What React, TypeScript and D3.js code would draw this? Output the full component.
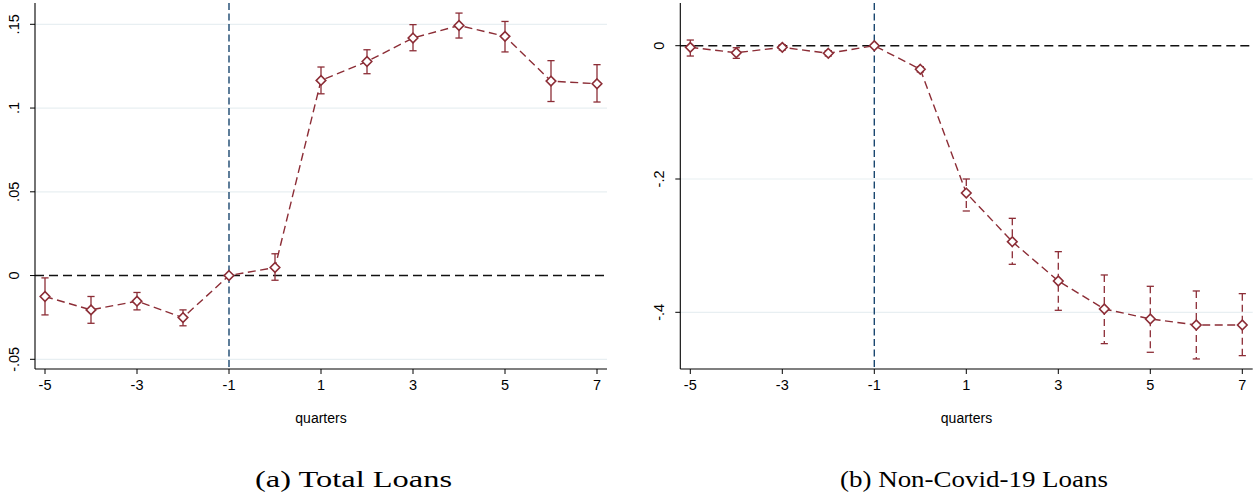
import React from "react";
import * as d3 from "d3";

const quarters = [-5, -4, -3, -2, -1, 0, 1, 2, 3, 4, 5, 6, 7];
const xTicks = [-5, -3, -1, 1, 3, 5, 7];

const totalCoef = [-0.0125, -0.0205, -0.0153, -0.0251, 0, 0.0048, 0.1165, 0.1278, 0.1418, 0.1493, 0.1428, 0.1161, 0.1145];
const totalLo = [-0.0235, -0.0285, -0.0205, -0.030, null, -0.0028, 0.1085, 0.1205, 0.1342, 0.1418, 0.1335, 0.1039, 0.1036];
const totalHi = [-0.0014, -0.0125, -0.0101, -0.0205, null, 0.013, 0.1245, 0.1348, 0.1498, 0.1567, 0.1517, 0.1283, 0.1259];
const totalYTicks = [-0.05, 0, 0.05, 0.1, 0.15];
const totalYLabels = ["-.05", "0", ".05", ".1", ".15"];

const nonCovidCoef = [-0.0025, -0.0105, -0.0025, -0.0114, 0, -0.0354, -0.221, -0.294, -0.353, -0.395, -0.41, -0.419, -0.419];
const nonCovidLo = [-0.0155, -0.019, -0.0065, -0.0154, null, -0.0394, -0.248, -0.328, -0.397, -0.447, -0.46, -0.47, -0.465];
const nonCovidHi = [0.0085, -0.003, 0.0015, -0.0074, null, -0.0314, -0.2, -0.259, -0.309, -0.344, -0.361, -0.368, -0.372];
const nonCovidYTicks = [-0.4, -0.2, 0];
const nonCovidYLabels = ["-.4", "-.2", "0"];

const MAROON = "#8c2d36";
const NAVY = "#1a476f";
const GRID = "#e8eff2";

type PanelProps = {
  coef: number[];
  lo: (number | null)[];
  hi: (number | null)[];
  yTicks: number[];
  yLabels: string[];
  yDomain: [number, number];
  yRange: [number, number];
  xRange: [number, number];
  plotLeft: number;
  plotRight: number;
  dashedCI: boolean;
  labelX: number;
};

const PLOT_TOP = 3;
const PLOT_BOTTOM = 369;
const SANS = "'Liberation Sans', Arial, sans-serif";

function Panel(p: PanelProps) {
  const x = d3.scaleLinear().domain([-5, 7]).range(p.xRange);
  const y = d3.scaleLinear().domain(p.yDomain).range(p.yRange);
  const line = d3
    .line<number>()
    .x((_, i) => x(quarters[i]))
    .y((d) => y(d));
  const diamond = (cx: number, cy: number) => {
    const r = 4.8;
    return `M${cx},${cy - r}L${cx + r},${cy}L${cx},${cy + r}L${cx - r},${cy}Z`;
  };
  const cap = 3.6;
  return (
    <g>
      {p.yTicks.map((t) =>
        t === 0 ? null : (
          <line key={"g" + t} x1={p.plotLeft} x2={p.plotRight} y1={y(t)} y2={y(t)} stroke={GRID} strokeWidth={1.2} />
        )
      )}
      <line x1={p.plotLeft} x2={p.plotRight} y1={y(0)} y2={y(0)} stroke="#111" strokeWidth={1.4} strokeDasharray="9 5" />
      <line x1={x(-1)} x2={x(-1)} y1={PLOT_TOP} y2={PLOT_BOTTOM} stroke={NAVY} strokeWidth={1.4} strokeDasharray="7 3.5" />
      <line x1={p.plotLeft} x2={p.plotLeft} y1={PLOT_TOP} y2={PLOT_BOTTOM} stroke="#000" strokeWidth={1.1} />
      <line x1={p.plotLeft} x2={p.plotRight} y1={PLOT_BOTTOM} y2={PLOT_BOTTOM} stroke="#000" strokeWidth={1.1} />
      {p.yTicks.map((t, i) => (
        <g key={"yt" + t}>
          <line x1={p.plotLeft - 5} x2={p.plotLeft} y1={y(t)} y2={y(t)} stroke="#000" strokeWidth={1} />
          <text
            transform={`translate(${p.plotLeft - 16},${y(t)}) rotate(-90)`}
            textAnchor="middle"
            fontFamily={SANS}
            fontSize={14.5}
          >
            {p.yLabels[i]}
          </text>
        </g>
      ))}
      {xTicks.map((t) => (
        <g key={"xt" + t}>
          <line x1={x(t)} x2={x(t)} y1={PLOT_BOTTOM} y2={PLOT_BOTTOM + 5} stroke="#000" strokeWidth={1} />
          <text x={x(t)} y={PLOT_BOTTOM + 21} textAnchor="middle" fontFamily={SANS} fontSize={14.5}>
            {String(t)}
          </text>
        </g>
      ))}
      <text x={p.labelX} y={423} textAnchor="middle" fontFamily={SANS} fontSize={14}>
        quarters
      </text>
      {quarters.map((q, i) => {
        const l = p.lo[i];
        const h = p.hi[i];
        if (l === null || h === null) return null;
        const cx = x(q);
        return (
          <g key={"ci" + q} stroke={MAROON} strokeWidth={1.3} fill="none">
            <line x1={cx} x2={cx} y1={y(h)} y2={y(l)} strokeDasharray={p.dashedCI ? "7 4" : undefined} />
            <line x1={cx - cap} x2={cx + cap} y1={y(h)} y2={y(h)} />
            <line x1={cx - cap} x2={cx + cap} y1={y(l)} y2={y(l)} />
          </g>
        );
      })}
      <path d={line(p.coef) || ""} fill="none" stroke={MAROON} strokeWidth={1.4} strokeDasharray="8 4.5" />
      {quarters.map((q, i) => (
        <path key={"m" + q} d={diamond(x(q), y(p.coef[i]))} fill="#fff" stroke={MAROON} strokeWidth={1.6} />
      ))}
    </g>
  );
}

export default function App() {
  return (
    <svg
      width={1258}
      height={497}
      style={{ position: "absolute", left: 0, top: 0, background: "#fff" }}
    >
      <rect x={0} y={0} width={1258} height={497} fill="#fff" />
      <Panel
        coef={totalCoef}
        lo={totalLo}
        hi={totalHi}
        yTicks={totalYTicks}
        yLabels={totalYLabels}
        yDomain={[-0.05, 0.15]}
        yRange={[359.3, 24.3]}
        xRange={[45, 597]}
        plotLeft={35}
        plotRight={607}
        dashedCI={false}
        labelX={321}
      />
      <Panel
        coef={nonCovidCoef}
        lo={nonCovidLo}
        hi={nonCovidHi}
        yTicks={nonCovidYTicks}
        yLabels={nonCovidYLabels}
        yDomain={[-0.4, 0]}
        yRange={[312.3, 45.7]}
        xRange={[690.3, 1242.3]}
        plotLeft={680.3}
        plotRight={1252.7}
        dashedCI={true}
        labelX={966.5}
      />
      <text x={353.5} y={487} textAnchor="middle" fontFamily="'Liberation Serif', 'Times New Roman', serif" fontSize={24} textLength={197} lengthAdjust="spacingAndGlyphs">
        (a) Total Loans
      </text>
      <text x={974} y={487} textAnchor="middle" fontFamily="'Liberation Serif', 'Times New Roman', serif" fontSize={24} textLength={268} lengthAdjust="spacingAndGlyphs">
        (b) Non-Covid-19 Loans
      </text>
    </svg>
  );
}
